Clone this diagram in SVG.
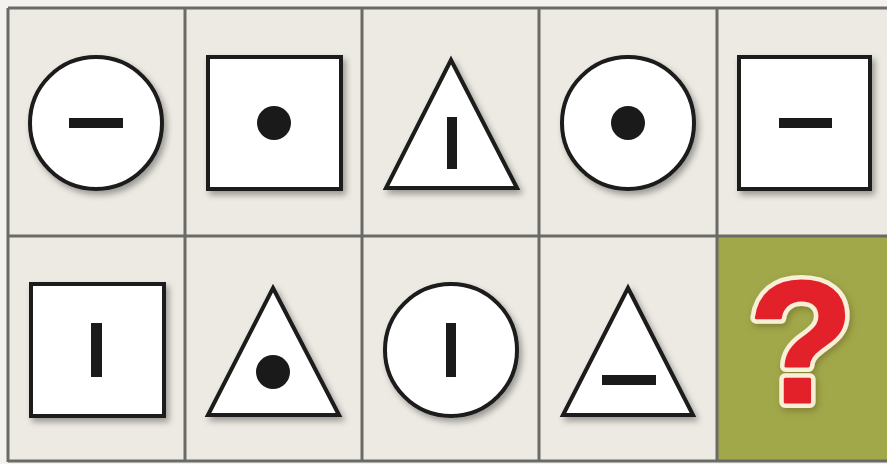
<svg xmlns="http://www.w3.org/2000/svg" width="887" height="464" viewBox="0 0 887 464">
<defs>
<filter id="sh" x="-20%" y="-20%" width="150%" height="150%">
<feDropShadow dx="3" dy="4" stdDeviation="3" flood-color="#000" flood-opacity="0.35"/>
</filter>
<filter id="qs" x="-30%" y="-30%" width="160%" height="160%">
<feDropShadow dx="2" dy="3" stdDeviation="3" flood-color="#6a5a20" flood-opacity="0.5"/>
</filter>
<style>
.sh{fill:#fff;stroke:#1a1a1a;stroke-width:4;filter:url(#sh)}
.mk{fill:#1a1a1a}
.grid{stroke:#6a6a66;stroke-width:3;fill:none}
.q{font-family:"Liberation Sans", Arial, sans-serif;font-weight:bold;font-size:172px;stroke-linejoin:round}
</style>
</defs>
<rect x="0" y="0" width="887" height="464" fill="#f3f2ee"/>
<rect x="8" y="8" width="879" height="453" fill="#edeae3"/>
<rect x="718" y="237" width="169" height="224" fill="#a0a84a"/>
<g id="connectors" class="grid">
<line x1="8" y1="8" x2="887" y2="8"/>
<line x1="8" y1="8" x2="8" y2="462"/>
<line x1="8" y1="461" x2="887" y2="461"/>
<line x1="8" y1="236" x2="887" y2="236"/>
<line x1="185" y1="8" x2="185" y2="462"/>
<line x1="362" y1="8" x2="362" y2="462"/>
<line x1="539" y1="8" x2="539" y2="462"/>
<line x1="717" y1="8" x2="717" y2="462"/>
</g>
<g id="r1c1"><circle class="sh" cx="96" cy="123" r="66"/><rect class="mk" x="69" y="118" width="54" height="10"/></g>
<g id="r1c2"><rect class="sh" x="208" y="57" width="133" height="132"/><circle class="mk" cx="274" cy="123" r="17"/></g>
<g id="r1c3"><polygon class="sh" points="451,60 517,188 386,188"/><rect class="mk" x="447" y="117" width="10" height="52"/></g>
<g id="r1c4"><circle class="sh" cx="628" cy="123" r="66"/><circle class="mk" cx="628" cy="123" r="17"/></g>
<g id="r1c5"><rect class="sh" x="739" y="57" width="131" height="132"/><rect class="mk" x="779" y="118" width="53" height="10"/></g>
<g id="r2c1"><rect class="sh" x="31" y="284" width="133" height="132"/><rect class="mk" x="91" y="323" width="11" height="54"/></g>
<g id="r2c2"><polygon class="sh" points="273,288 339,415 208,415"/><circle class="mk" cx="273" cy="372" r="17"/></g>
<g id="r2c3"><circle class="sh" cx="451" cy="350" r="66"/><rect class="mk" x="446" y="323" width="10" height="54"/></g>
<g id="r2c4"><polygon class="sh" points="628,288 693,415 563,415"/><rect class="mk" x="602" y="375" width="54" height="10"/></g>
<g id="r2c5"><text class="q" x="801" y="402" text-anchor="middle" fill="#f7efd6" stroke="#f7efd6" stroke-width="12" filter="url(#qs)">?</text><text class="q" x="801" y="402" text-anchor="middle" fill="#e3212b" stroke="#e3212b" stroke-width="3">?</text></g>
</svg>
